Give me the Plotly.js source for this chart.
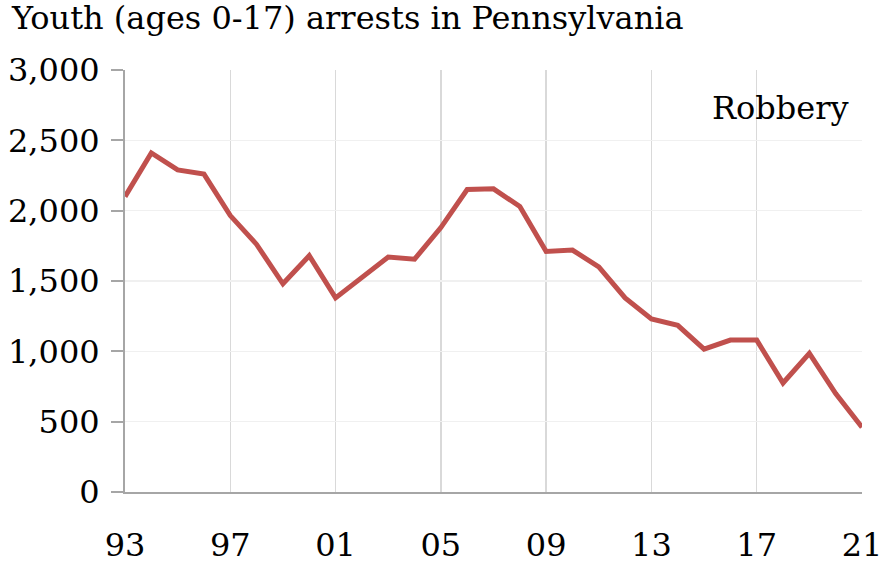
<!DOCTYPE html>
<html>
<head>
<meta charset="utf-8">
<script src="https://cdn.plot.ly/plotly-3.0.1.min.js"></script>
<style>html,body{margin:0;padding:0;background:#fff;}#chart{width:883px;height:563px;}</style>
</head>
<body>
<div id="chart"></div>
<script>
const years = [1993,1994,1995,1996,1997,1998,1999,2000,2001,2002,2003,2004,2005,2006,2007,2008,2009,2010,2011,2012,2013,2014,2015,2016,2017,2018,2019,2020,2021];
const robbery = [2100,2410,2290,2260,1965,1760,1480,1680,1380,1530,1670,1655,1880,2150,2155,2030,1710,1720,1600,1380,1230,1185,1015,1080,1080,775,985,700,460];
const xTickVals = [1993,1997,2001,2005,2009,2013,2017,2021];
const xTickText = ['93','97','01','05','09','13','17','21'];
const yTickVals = [0,500,1000,1500,2000,2500,3000];
const chartTitle = 'Youth (ages 0-17) arrests in Pennsylvania';
const seriesLabel = 'Robbery';

const font = 'DejaVu Serif, serif';
const trace = {
  x: years, y: robbery, type: 'scatter', mode: 'lines',
  line: {color: '#c0504d', width: 5}, hoverinfo: 'x+y'
};
const layout = {
  width: 883, height: 563,
  margin: {l: 125, r: 21, t: 70, b: 71},
  paper_bgcolor: '#fff', plot_bgcolor: '#fff',
  showlegend: false,
  font: {family: font, size: 32, color: '#000'},
  title: {text: chartTitle, x: 12/883, xref: 'container', xanchor: 'left', y: 1, yref: 'container', yanchor: 'top', pad: {t: 7},
          font: {family: font, size: 32, color: '#000'}},
  xaxis: {range: [1993, 2021], tickvals: xTickVals, ticktext: xTickText, showgrid: true, gridcolor: '#d9d9d9', gridwidth: 1.5,
          zeroline: false, showline: true, linecolor: '#a6a6a6', linewidth: 2, ticks: '', ticklabelstandoff: 24,
          ticklabeloverflow: 'allow', tickfont: {family: font, size: 32}},
  yaxis: {range: [0, 3000], tickvals: yTickVals, tickformat: ',d', showgrid: true, gridcolor: '#f0f0f0', gridwidth: 1.5,
          zeroline: false, showline: true, linecolor: '#a6a6a6', linewidth: 2, ticks: 'outside', ticklen: 12, tickcolor: '#a6a6a6', tickwidth: 2,
          ticklabelstandoff: 5, ticklabeloverflow: 'allow', tickfont: {family: font, size: 32}},
  annotations: [{text: seriesLabel, xref: 'paper', yref: 'paper', x: 0.985, y: 0.96, xanchor: 'right', yanchor: 'top', showarrow: false,
                 font: {family: font, size: 32, color: '#000'}}]
};
Plotly.newPlot('chart', [trace], layout, {displayModeBar: false, staticPlot: true});
</script>
</body>
</html>
